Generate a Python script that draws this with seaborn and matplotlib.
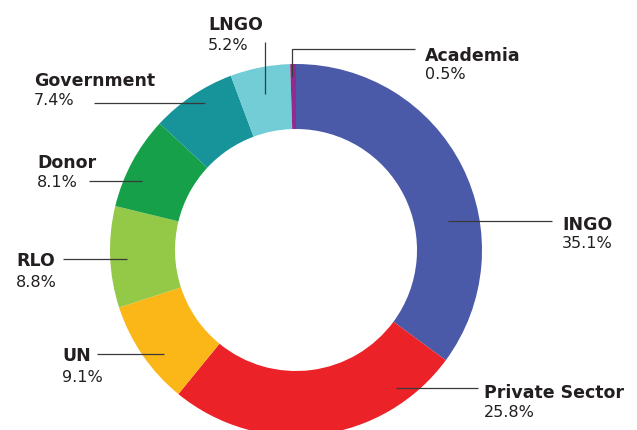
import matplotlib
matplotlib.use("Agg")
import matplotlib.pyplot as plt
import seaborn as sns

sns.set_theme(style="white")
plt.rcParams['font.family'] = ['DejaVu Sans']

# data
sectors = ['INGO', 'Private Sector', 'UN', 'RLO', 'Donor', 'Government', 'LNGO', 'Academia']
shares = [35.1, 25.8, 9.1, 8.8, 8.1, 7.4, 5.2, 0.5]
colors = ['#4A5AA8', '#EC2229', '#FBB618', '#94C847', '#17A04A', '#17939A', '#72CDD6', '#932B8E']

W, H = 637, 430
fig = plt.figure(figsize=(W / 100, H / 100), dpi=100)
ax = fig.add_axes([0, 0, 1, 1])

# pixel space, y measured from the top of the image
def py(y):
    return H - y

ax.pie(shares, colors=colors, startangle=90, counterclock=False,
       center=(296, py(250)), radius=186,
       wedgeprops=dict(width=65, linewidth=0))
ax.set_xlim(0, W)
ax.set_ylim(0, H)
ax.set_aspect('equal')
ax.axis('off')

# label layout: text x, name baseline, pct baseline, leader line points
layout = {
    'INGO':           (562, 230, 248, [(448, 221), (552, 221)]),
    'Private Sector': (484, 398, 417, [(396, 388), (478, 388)]),
    'UN':             (62, 361, 382, [(97, 354), (164, 354)]),
    'RLO':            (16, 266, 287, [(63, 259), (127, 259)]),
    'Donor':          (37, 168, 187, [(89, 181), (142, 181)]),
    'Government':     (34, 86, 105, [(94, 103), (205, 103)]),
    'LNGO':           (208, 30, 50, [(265, 42), (265, 94)]),
    'Academia':       (425, 61, 79, [(292, 77), (292, 49), (415, 49)]),
}

for name, val in zip(sectors, shares):
    tx, yb1, yb2, pts = layout[name]
    ax.text(tx, py(yb1), name, fontsize=12.5, fontweight='bold', color='#231F20',
            ha='left', va='baseline')
    ax.text(tx, py(yb2), f'{val}%', fontsize=11.5, color='#231F20',
            ha='left', va='baseline')
    xs = [p[0] for p in pts]
    ys = [py(p[1]) for p in pts]
    ax.plot(xs, ys, color='#3a3a3a', linewidth=0.9, solid_capstyle='butt')

fig.savefig('out.png', dpi=100, facecolor='white')
